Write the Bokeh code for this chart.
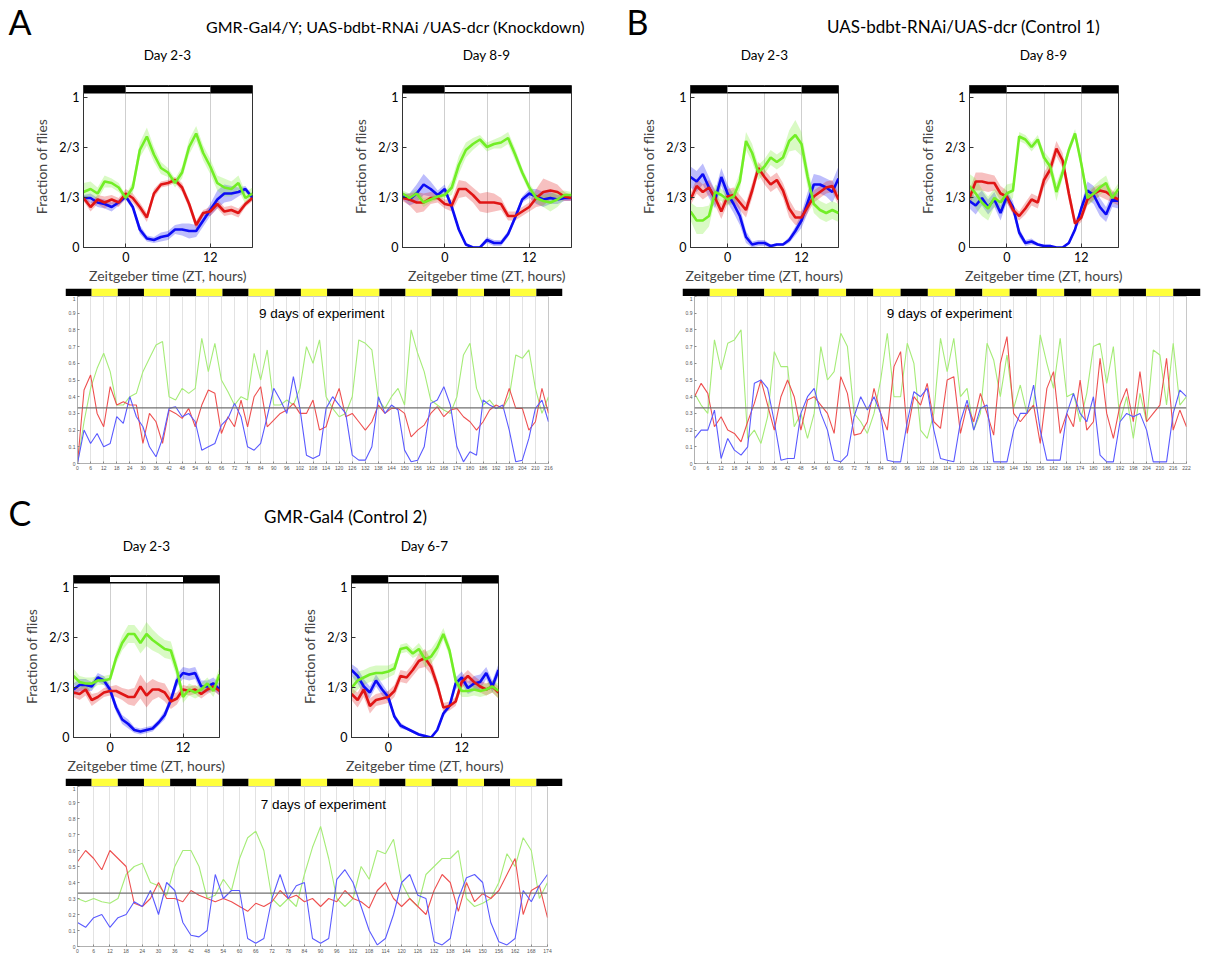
from bokeh.plotting import figure
from bokeh.layouts import row, column
from bokeh.models import Range1d, Label, FixedTicker, CustomJSTickFormatter, Span
from bokeh.embed import file_html
from bokeh.resources import INLINE

# ---------------- data ----------------
ZT = [-6, -5, -4, -3, -2, -1, 0, 1, 2, 3, 4, 5, 6, 7, 8, 9, 10, 11, 12, 13, 14, 15, 16, 17, 18]
LD_START = [-6, 0, 12]
LD_END = [0, 12, 18]
LD_LIGHT = [False, True, False]
Y_TICKS = [0, 1 / 3, 2 / 3, 1]
X_TICKS = [0, 12]
GRID_TICKS = [0, 6, 12]
CHANCE = 1 / 3

# Panel A, Day 2-3
A1_green = [0.37, 0.39, 0.36, 0.44, 0.43, 0.40, 0.33, 0.40, 0.65, 0.74, 0.62, 0.53, 0.50, 0.43, 0.50, 0.67, 0.76, 0.63, 0.54, 0.43, 0.40, 0.39, 0.43, 0.33, 0.36]
A1_green_sem = [0.06, 0.05, 0.04, 0.04, 0.03, 0.03, 0.02, 0.04, 0.05, 0.06, 0.05, 0.04, 0.03, 0.03, 0.04, 0.05, 0.05, 0.05, 0.05, 0.05, 0.06, 0.05, 0.05, 0.04, 0.04]
A1_red = [0.33, 0.27, 0.32, 0.30, 0.32, 0.30, 0.36, 0.33, 0.27, 0.20, 0.36, 0.42, 0.43, 0.45, 0.40, 0.29, 0.15, 0.23, 0.24, 0.29, 0.24, 0.25, 0.23, 0.29, 0.33]
A1_red_sem = [0.02, 0.03, 0.03, 0.04, 0.03, 0.03, 0.03, 0.03, 0.03, 0.03, 0.03, 0.02, 0.02, 0.02, 0.03, 0.03, 0.03, 0.02, 0.03, 0.03, 0.03, 0.03, 0.03, 0.02, 0.02]
A1_blue = [0.33, 0.33, 0.30, 0.29, 0.27, 0.30, 0.34, 0.27, 0.12, 0.06, 0.05, 0.07, 0.08, 0.12, 0.12, 0.11, 0.11, 0.18, 0.25, 0.32, 0.36, 0.36, 0.37, 0.39, 0.33]
A1_blue_sem = [0.02, 0.03, 0.03, 0.03, 0.03, 0.02, 0.02, 0.02, 0.03, 0.02, 0.02, 0.03, 0.03, 0.03, 0.04, 0.05, 0.04, 0.04, 0.04, 0.06, 0.06, 0.05, 0.03, 0.02, 0.02]

# Panel A, Day 8-9
A2_green = [0.36, 0.33, 0.36, 0.30, 0.32, 0.34, 0.35, 0.40, 0.55, 0.65, 0.69, 0.72, 0.67, 0.69, 0.70, 0.73, 0.62, 0.50, 0.40, 0.33, 0.31, 0.30, 0.32, 0.35, 0.35]
A2_green_sem = [0.02, 0.03, 0.03, 0.03, 0.02, 0.02, 0.02, 0.05, 0.06, 0.05, 0.04, 0.03, 0.03, 0.03, 0.04, 0.04, 0.04, 0.03, 0.03, 0.03, 0.04, 0.06, 0.05, 0.03, 0.02]
A2_red = [0.33, 0.32, 0.30, 0.30, 0.33, 0.33, 0.29, 0.28, 0.39, 0.39, 0.35, 0.30, 0.30, 0.30, 0.29, 0.21, 0.21, 0.24, 0.27, 0.33, 0.37, 0.38, 0.37, 0.34, 0.33]
A2_red_sem = [0.02, 0.04, 0.07, 0.06, 0.04, 0.03, 0.03, 0.04, 0.06, 0.05, 0.05, 0.06, 0.07, 0.06, 0.04, 0.03, 0.03, 0.03, 0.03, 0.06, 0.09, 0.06, 0.05, 0.03, 0.02]
A2_blue = [0.34, 0.32, 0.36, 0.42, 0.39, 0.35, 0.39, 0.27, 0.12, 0.02, 0.00, 0.00, 0.05, 0.03, 0.03, 0.09, 0.20, 0.32, 0.36, 0.34, 0.32, 0.33, 0.32, 0.33, 0.33]
A2_blue_sem = [0.02, 0.04, 0.06, 0.07, 0.05, 0.03, 0.03, 0.02, 0.02, 0.01, 0.01, 0.01, 0.02, 0.02, 0.02, 0.02, 0.02, 0.02, 0.03, 0.05, 0.05, 0.04, 0.03, 0.02, 0.02]

# Panel B, Day 2-3
B1_green = [0.24, 0.18, 0.18, 0.21, 0.37, 0.35, 0.32, 0.34, 0.44, 0.71, 0.63, 0.50, 0.54, 0.60, 0.57, 0.60, 0.71, 0.75, 0.69, 0.47, 0.29, 0.25, 0.23, 0.25, 0.23]
B1_green_sem = [0.06, 0.09, 0.09, 0.07, 0.05, 0.04, 0.04, 0.05, 0.06, 0.06, 0.06, 0.05, 0.05, 0.05, 0.05, 0.05, 0.07, 0.10, 0.08, 0.07, 0.06, 0.06, 0.06, 0.06, 0.06]
B1_red = [0.32, 0.41, 0.37, 0.40, 0.33, 0.24, 0.34, 0.35, 0.30, 0.25, 0.38, 0.53, 0.47, 0.42, 0.45, 0.38, 0.26, 0.20, 0.20, 0.27, 0.34, 0.37, 0.40, 0.41, 0.32]
B1_red_sem = [0.04, 0.05, 0.05, 0.05, 0.05, 0.05, 0.05, 0.05, 0.05, 0.05, 0.05, 0.04, 0.05, 0.05, 0.05, 0.05, 0.06, 0.05, 0.04, 0.04, 0.04, 0.04, 0.04, 0.04, 0.04]
B1_blue = [0.47, 0.44, 0.49, 0.40, 0.32, 0.47, 0.36, 0.29, 0.21, 0.07, 0.02, 0.03, 0.03, 0.01, 0.02, 0.02, 0.05, 0.11, 0.18, 0.30, 0.42, 0.42, 0.40, 0.37, 0.46]
B1_blue_sem = [0.07, 0.07, 0.07, 0.07, 0.06, 0.06, 0.06, 0.06, 0.06, 0.04, 0.02, 0.02, 0.02, 0.01, 0.01, 0.01, 0.02, 0.03, 0.05, 0.07, 0.07, 0.06, 0.06, 0.07, 0.08]

# Panel B, Day 8-9
B2_green = [0.41, 0.36, 0.30, 0.26, 0.33, 0.30, 0.36, 0.38, 0.74, 0.72, 0.67, 0.72, 0.60, 0.54, 0.37, 0.50, 0.65, 0.76, 0.56, 0.33, 0.36, 0.40, 0.43, 0.33, 0.39]
B2_green_sem = [0.08, 0.10, 0.09, 0.08, 0.06, 0.06, 0.06, 0.05, 0.03, 0.03, 0.03, 0.03, 0.04, 0.05, 0.06, 0.04, 0.03, 0.03, 0.04, 0.05, 0.05, 0.05, 0.05, 0.04, 0.04]
B2_red = [0.33, 0.44, 0.44, 0.43, 0.43, 0.36, 0.34, 0.25, 0.21, 0.26, 0.32, 0.30, 0.45, 0.52, 0.66, 0.58, 0.36, 0.16, 0.20, 0.32, 0.36, 0.38, 0.37, 0.34, 0.32]
B2_red_sem = [0.05, 0.06, 0.06, 0.06, 0.05, 0.05, 0.04, 0.03, 0.03, 0.04, 0.04, 0.04, 0.05, 0.05, 0.05, 0.05, 0.05, 0.03, 0.03, 0.04, 0.04, 0.04, 0.05, 0.04, 0.04]
B2_blue = [0.31, 0.28, 0.33, 0.27, 0.32, 0.23, 0.34, 0.27, 0.10, 0.03, 0.04, 0.02, 0.01, 0.01, 0.00, 0.00, 0.03, 0.12, 0.26, 0.38, 0.35, 0.27, 0.22, 0.32, 0.31]
B2_blue_sem = [0.05, 0.06, 0.05, 0.05, 0.05, 0.05, 0.04, 0.04, 0.03, 0.02, 0.02, 0.01, 0.01, 0.01, 0.00, 0.00, 0.01, 0.02, 0.03, 0.06, 0.06, 0.06, 0.05, 0.05, 0.05]

# Panel C, Day 2-3
C1_green = [0.41, 0.37, 0.36, 0.36, 0.38, 0.38, 0.39, 0.53, 0.63, 0.69, 0.69, 0.63, 0.69, 0.65, 0.62, 0.59, 0.58, 0.45, 0.27, 0.32, 0.30, 0.32, 0.36, 0.31, 0.42]
C1_green_sem = [0.05, 0.04, 0.04, 0.04, 0.03, 0.03, 0.03, 0.04, 0.05, 0.06, 0.06, 0.07, 0.08, 0.07, 0.06, 0.06, 0.06, 0.05, 0.04, 0.04, 0.04, 0.04, 0.04, 0.04, 0.05]
C1_red = [0.30, 0.29, 0.32, 0.25, 0.27, 0.30, 0.31, 0.31, 0.29, 0.27, 0.27, 0.34, 0.28, 0.32, 0.32, 0.30, 0.24, 0.26, 0.32, 0.31, 0.32, 0.29, 0.32, 0.34, 0.31]
C1_red_sem = [0.03, 0.04, 0.04, 0.04, 0.03, 0.03, 0.03, 0.04, 0.04, 0.05, 0.06, 0.08, 0.08, 0.07, 0.05, 0.06, 0.05, 0.04, 0.03, 0.03, 0.03, 0.03, 0.03, 0.03, 0.03]
C1_blue = [0.32, 0.35, 0.35, 0.34, 0.40, 0.38, 0.32, 0.20, 0.12, 0.09, 0.05, 0.04, 0.05, 0.06, 0.10, 0.15, 0.25, 0.38, 0.43, 0.42, 0.43, 0.34, 0.34, 0.36, 0.32]
C1_blue_sem = [0.04, 0.04, 0.04, 0.03, 0.03, 0.03, 0.03, 0.03, 0.03, 0.03, 0.02, 0.02, 0.02, 0.02, 0.02, 0.03, 0.03, 0.04, 0.04, 0.04, 0.04, 0.04, 0.04, 0.04, 0.04]

# Panel C, Day 6-7
C2_green = [0.33, 0.38, 0.40, 0.42, 0.43, 0.43, 0.44, 0.46, 0.59, 0.60, 0.56, 0.59, 0.52, 0.54, 0.60, 0.69, 0.58, 0.38, 0.31, 0.31, 0.32, 0.31, 0.32, 0.34, 0.31]
C2_green_sem = [0.06, 0.06, 0.05, 0.05, 0.05, 0.05, 0.04, 0.04, 0.03, 0.03, 0.03, 0.04, 0.05, 0.05, 0.05, 0.04, 0.04, 0.04, 0.04, 0.04, 0.04, 0.04, 0.04, 0.04, 0.05]
C2_red = [0.29, 0.25, 0.32, 0.21, 0.25, 0.26, 0.27, 0.31, 0.41, 0.40, 0.45, 0.51, 0.53, 0.47, 0.35, 0.20, 0.21, 0.24, 0.37, 0.41, 0.37, 0.34, 0.32, 0.34, 0.30]
C2_red_sem = [0.04, 0.05, 0.05, 0.05, 0.04, 0.04, 0.04, 0.04, 0.04, 0.04, 0.04, 0.05, 0.06, 0.05, 0.04, 0.03, 0.03, 0.03, 0.04, 0.04, 0.04, 0.04, 0.04, 0.04, 0.04]
C2_blue = [0.45, 0.41, 0.34, 0.30, 0.38, 0.32, 0.27, 0.14, 0.08, 0.06, 0.04, 0.02, 0.01, 0.00, 0.05, 0.16, 0.21, 0.36, 0.40, 0.33, 0.36, 0.37, 0.43, 0.34, 0.45]
C2_blue_sem = [0.04, 0.05, 0.05, 0.04, 0.04, 0.04, 0.03, 0.02, 0.02, 0.01, 0.01, 0.01, 0.01, 0.00, 0.01, 0.02, 0.02, 0.04, 0.04, 0.04, 0.05, 0.05, 0.04, 0.04, 0.04]

# Long recordings (sampled every 3 h)
LONG_A_HOURS = list(range(0, 217, 3))
LONG_A_green = [0.00, 0.25, 0.45, 0.57, 0.66, 0.55, 0.35, 0.35, 0.40, 0.42,
                0.55, 0.63, 0.71, 0.73, 0.40, 0.38, 0.45, 0.42, 0.45, 0.75,
                0.55, 0.72, 0.50, 0.43, 0.35, 0.40, 0.38, 0.66, 0.50, 0.68,
                0.35, 0.35, 0.38, 0.35, 0.45, 0.70, 0.60, 0.74, 0.40, 0.33,
                0.28, 0.30, 0.40, 0.74, 0.72, 0.68, 0.38, 0.33, 0.40, 0.45,
                0.35, 0.80, 0.66, 0.55, 0.38, 0.35, 0.32, 0.30, 0.40, 0.65,
                0.72, 0.45, 0.35, 0.38, 0.33, 0.33, 0.40, 0.65, 0.63, 0.68,
                0.45, 0.30, 0.40]
LONG_A_red = [0.00, 0.44, 0.53, 0.30, 0.22, 0.46, 0.35, 0.37, 0.35, 0.35,
              0.12, 0.30, 0.25, 0.12, 0.32, 0.30, 0.27, 0.33, 0.22, 0.35,
              0.44, 0.42, 0.18, 0.28, 0.22, 0.38, 0.22, 0.40, 0.46, 0.22,
              0.26, 0.30, 0.32, 0.36, 0.30, 0.30, 0.38, 0.20, 0.22, 0.35,
              0.45, 0.28, 0.30, 0.25, 0.20, 0.25, 0.35, 0.30, 0.33, 0.33,
              0.30, 0.16, 0.20, 0.23, 0.30, 0.34, 0.28, 0.32, 0.33, 0.28,
              0.25, 0.20, 0.25, 0.32, 0.35, 0.33, 0.45, 0.33, 0.33, 0.20,
              0.25, 0.45, 0.30]
LONG_A_blue = [0.00, 0.20, 0.12, 0.18, 0.10, 0.12, 0.28, 0.24, 0.40, 0.28,
               0.22, 0.10, 0.04, 0.15, 0.33, 0.34, 0.28, 0.30, 0.25, 0.08,
               0.10, 0.12, 0.23, 0.27, 0.36, 0.28, 0.10, 0.08, 0.12, 0.28,
               0.45, 0.38, 0.30, 0.52, 0.33, 0.05, 0.03, 0.05, 0.33, 0.40,
               0.35, 0.30, 0.05, 0.02, 0.02, 0.10, 0.40, 0.30, 0.35, 0.32,
               0.08, 0.01, 0.02, 0.10, 0.36, 0.38, 0.46, 0.35, 0.10, 0.01,
               0.07, 0.05, 0.38, 0.35, 0.33, 0.35, 0.20, 0.01, 0.02, 0.15,
               0.33, 0.38, 0.25]

LONG_B_HOURS = list(range(0, 223, 3))
LONG_B_green = [0.42, 0.35, 0.30, 0.74, 0.56, 0.72, 0.74, 0.80, 0.15, 0.20,
                0.12, 0.28, 0.67, 0.58, 0.58, 0.22, 0.30, 0.15, 0.30, 0.70,
                0.50, 0.55, 0.78, 0.70, 0.30, 0.25, 0.18, 0.30, 0.50, 0.78,
                0.40, 0.40, 0.72, 0.60, 0.20, 0.15, 0.30, 0.75, 0.55, 0.75,
                0.40, 0.45, 0.20, 0.30, 0.72, 0.62, 0.40, 0.65, 0.33, 0.47,
                0.30, 0.35, 0.77, 0.60, 0.45, 0.75, 0.40, 0.42, 0.25, 0.42,
                0.70, 0.72, 0.48, 0.70, 0.25, 0.40, 0.15, 0.42, 0.25, 0.68,
                0.65, 0.35, 0.72, 0.35, 0.40]
LONG_B_red = [0.40, 0.48, 0.42, 0.22, 0.28, 0.20, 0.18, 0.13, 0.25, 0.36,
              0.50, 0.35, 0.20, 0.40, 0.50, 0.40, 0.20, 0.38, 0.40, 0.35,
              0.30, 0.18, 0.52, 0.42, 0.17, 0.18, 0.25, 0.45, 0.30, 0.20,
              0.58, 0.67, 0.18, 0.40, 0.35, 0.48, 0.25, 0.21, 0.50, 0.52,
              0.18, 0.35, 0.25, 0.42, 0.30, 0.17, 0.60, 0.76, 0.30, 0.25,
              0.30, 0.35, 0.12, 0.45, 0.55, 0.18, 0.30, 0.22, 0.50, 0.20,
              0.25, 0.63, 0.30, 0.15, 0.35, 0.45, 0.25, 0.55, 0.25, 0.30,
              0.35, 0.63, 0.20, 0.32, 0.22]
LONG_B_blue = [0.15, 0.20, 0.20, 0.32, 0.03, 0.15, 0.08, 0.05, 0.10, 0.48,
               0.50, 0.45, 0.25, 0.02, 0.03, 0.03, 0.30, 0.40, 0.45, 0.30,
               0.20, 0.02, 0.01, 0.05, 0.28, 0.40, 0.32, 0.40, 0.30, 0.02,
               0.01, 0.01, 0.25, 0.43, 0.40, 0.45, 0.20, 0.03, 0.02, 0.01,
               0.25, 0.38, 0.20, 0.33, 0.35, 0.01, 0.01, 0.01, 0.20, 0.30,
               0.30, 0.47, 0.20, 0.02, 0.02, 0.02, 0.30, 0.42, 0.30, 0.25,
               0.40, 0.05, 0.01, 0.01, 0.25, 0.30, 0.28, 0.30, 0.20, 0.01,
               0.01, 0.01, 0.30, 0.44, 0.40]

LONG_C_HOURS = list(range(0, 175, 3))
LONG_C_green = [0.30, 0.28, 0.30, 0.28, 0.27, 0.30, 0.45, 0.50, 0.52, 0.40,
                0.38, 0.32, 0.50, 0.60, 0.60, 0.50, 0.30, 0.32, 0.42, 0.35,
                0.55, 0.68, 0.72, 0.60, 0.30, 0.25, 0.30, 0.25, 0.45, 0.62,
                0.75, 0.55, 0.30, 0.25, 0.30, 0.50, 0.42, 0.60, 0.58, 0.67,
                0.40, 0.30, 0.25, 0.45, 0.50, 0.55, 0.55, 0.60, 0.30, 0.25,
                0.27, 0.30, 0.40, 0.58, 0.50, 0.68, 0.60, 0.30, 0.40]
LONG_C_red = [0.53, 0.60, 0.55, 0.48, 0.60, 0.55, 0.50, 0.27, 0.25, 0.30,
              0.40, 0.30, 0.30, 0.28, 0.35, 0.32, 0.30, 0.28, 0.30, 0.28,
              0.25, 0.22, 0.27, 0.25, 0.28, 0.35, 0.30, 0.32, 0.28, 0.30,
              0.25, 0.30, 0.28, 0.35, 0.30, 0.28, 0.24, 0.35, 0.40, 0.30,
              0.25, 0.30, 0.25, 0.20, 0.35, 0.45, 0.40, 0.22, 0.40, 0.28,
              0.33, 0.30, 0.35, 0.45, 0.55, 0.20, 0.35, 0.38, 0.18]
LONG_C_blue = [0.15, 0.12, 0.18, 0.20, 0.12, 0.18, 0.20, 0.28, 0.25, 0.35,
               0.20, 0.40, 0.35, 0.15, 0.07, 0.06, 0.10, 0.45, 0.30, 0.35,
               0.35, 0.05, 0.02, 0.05, 0.30, 0.45, 0.30, 0.38, 0.40, 0.05,
               0.02, 0.05, 0.42, 0.48, 0.40, 0.25, 0.10, 0.01, 0.05, 0.20,
               0.40, 0.45, 0.32, 0.30, 0.03, 0.01, 0.05, 0.30, 0.43, 0.45,
               0.40, 0.15, 0.03, 0.01, 0.05, 0.35, 0.28, 0.38, 0.45]

# light/dark strip above each long recording (12 h segments, dark first)
STRIP_PHASES = ["D", "L", "D", "L", "D", "L", "D", "L", "D", "L",
                "D", "L", "D", "L", "D", "L", "D", "L", "D"]

# ---------------- styling ----------------
BLUE, RED, GREEN = "#0c0cf5", "#e01515", "#72ee26"
LBLUE, LRED, LGREEN = "#5a5aff", "#ee5050", "#a6ec78"
CAL = "Lato"
ARIAL = "Liberation Sans"


def base_fig(w, h, ml, mr, mt, mb, **kw):
    p = figure(width=w, height=h, toolbar_location=None, output_backend="svg", title=None,
               min_border_left=ml, min_border_right=mr, min_border_top=mt,
               min_border_bottom=mb, **kw)
    p.background_fill_color = "white"
    p.border_fill_color = "white"
    return p


def header(w, h, labels):
    p = base_fig(w, h, 0, 0, 0, 0, x_range=Range1d(0, w), y_range=Range1d(h, 0),
                 x_axis_type=None, y_axis_type=None)
    p.grid.visible = False
    p.outline_line_color = None
    for (x, y, txt, size, align) in labels:
        p.add_layout(Label(x=x, y=y, text=txt, text_font=CAL, text_font_size=size,
                           text_align=align, text_baseline="middle", text_color="black"))
    return p


def small(w, h, ml, mr, mt, mb, series):
    p = base_fig(w, h, ml, mr, mt, mb, x_range=Range1d(-6, 18), y_range=Range1d(0, 1.08))
    # light regime bar
    p.quad(left=LD_START, right=LD_END, bottom=1.026, top=1.08, fill_color="black", line_color=None)
    ls = [s for s, on in zip(LD_START, LD_LIGHT) if on]
    le = [e for e, on in zip(LD_END, LD_LIGHT) if on]
    p.quad(left=ls, right=le, bottom=1.037, top=1.07, fill_color="white", line_color=None)
    for vals, sem, col in series:
        lo = [max(0.0, v - s) for v, s in zip(vals, sem)]
        hi = [v + s for v, s in zip(vals, sem)]
        p.varea(x=ZT, y1=lo, y2=hi, fill_color=col, fill_alpha=0.27)
    for vals, sem, col in series:
        p.line(ZT, vals, line_color=col, line_width=2.6)
    p.xaxis.ticker = FixedTicker(ticks=X_TICKS)
    p.yaxis.ticker = FixedTicker(ticks=Y_TICKS)
    p.yaxis.formatter = CustomJSTickFormatter(code="""
        if (Math.abs(tick) < 1e-6) return "0";
        if (Math.abs(tick - 1/3) < 1e-6) return "1/3";
        if (Math.abs(tick - 2/3) < 1e-6) return "2/3";
        if (Math.abs(tick - 1) < 1e-6) return "1";
        return "";""")
    p.xaxis.axis_label = "Zeitgeber time (ZT, hours)"
    p.yaxis.axis_label = "Fraction of flies"
    for ax in (p.xaxis[0], p.yaxis[0]):
        ax.axis_label_text_font = CAL
        ax.axis_label_text_font_style = "normal"
        ax.axis_label_text_font_size = "14px"
        ax.major_label_text_font = CAL
        ax.major_label_text_font_size = "12.5px"
        ax.major_label_text_color = "black"
        ax.major_tick_in = 4
        ax.major_tick_out = 0
        ax.minor_tick_line_color = None
        ax.axis_line_color = "#333333"
        ax.major_tick_line_color = "#333333"
        ax.major_label_standoff = 4
    p.xaxis.axis_label_standoff = 2
    p.yaxis.axis_label_standoff = 6
    p.outline_line_color = "#333333"
    p.xgrid.ticker = FixedTicker(ticks=GRID_TICKS)
    p.xgrid.grid_line_color = "#cfcfcf"
    p.ygrid.grid_line_color = None
    return p


def strip(w, h, ml, mr, mt, mb):
    n = len(STRIP_PHASES)
    p = base_fig(w, h, ml, mr, mt, mb, x_range=Range1d(0, n), y_range=Range1d(0, 1),
                 x_axis_type=None, y_axis_type=None)
    p.grid.visible = False
    p.outline_line_color = None
    idx = list(range(n))
    cols = ["black" if ph == "D" else "#ffff3c" for ph in STRIP_PHASES]
    p.quad(left=idx, right=[i + 1 for i in idx], bottom=0, top=1, fill_color=cols, line_color=None)
    return p


def long_plot(w, h, ml, mr, mt, mb, hours, xmax, g, r, b, title, tx, ty):
    p = base_fig(w, h, ml, mr, mt, mb, x_range=Range1d(0, xmax), y_range=Range1d(0, 1))
    ticks = list(range(0, xmax + 1, 6))
    p.xaxis.ticker = FixedTicker(ticks=ticks)
    p.xgrid.ticker = FixedTicker(ticks=ticks)
    p.xgrid.grid_line_color = "#e2e2e2"
    p.ygrid.grid_line_color = None
    p.yaxis.ticker = FixedTicker(ticks=[0, 0.1, 0.2, 0.3, 0.4, 0.5, 0.6, 0.7, 0.8, 0.9, 1.0])
    p.yaxis.formatter = CustomJSTickFormatter(code="return tick.toFixed(1).replace(/\\.0$/, '');")
    for ax in (p.xaxis[0], p.yaxis[0]):
        ax.major_label_text_font_size = "5px"
        ax.major_label_text_color = "#555555"
        ax.major_label_text_font = ARIAL
        ax.major_tick_in = 2
        ax.major_tick_out = 0
        ax.minor_tick_line_color = None
        ax.axis_line_color = "#b0b0b0"
        ax.major_tick_line_color = "#888888"
        ax.major_label_standoff = 2
    p.outline_line_color = "#c8c8c8"
    p.add_layout(Span(location=CHANCE, dimension="width", line_color="#707070", line_width=1.2))
    p.line(hours, g, line_color=LGREEN, line_width=1.1)
    p.line(hours, r, line_color=LRED, line_width=1.1)
    p.line(hours, b, line_color=LBLUE, line_width=1.1)
    p.add_layout(Label(x=tx, y=ty, text=title, text_font=ARIAL, text_font_size="13.5px",
                       text_align="center", text_baseline="middle", text_color="black"))
    return p


# ---------------- panel A (x 0..620) ----------------
hA = header(620, 63, [
    (8, 21, "A", "34px", "left"),
    (395, 26, "GMR-Gal4/Y; UAS-bdbt-RNAi /UAS-dcr (Knockdown)", "16px", "center"),
    (167, 54, "Day 2-3", "13.5px", "center"),
    (486, 54, "Day 8-9", "13.5px", "center"),
])
A1 = small(330, 223, 83, 78, 22, 38, [(A1_blue, A1_blue_sem, BLUE), (A1_red, A1_red_sem, RED), (A1_green, A1_green_sem, GREEN)])
A2 = small(290, 223, 72, 49, 22, 38, [(A2_blue, A2_blue_sem, BLUE), (A2_red, A2_red_sem, RED), (A2_green, A2_green_sem, GREEN)])
sA = strip(620, 10, 65, 58, 0, 1)
lA = long_plot(620, 187, 77, 72, 0, 20, LONG_A_HOURS, 216, LONG_A_green, LONG_A_red, LONG_A_blue,
               "9 days of experiment", 112, 0.9)
blockA = column(row(hA), row(A1, A2), row(sA), row(lA))

# ---------------- panel B (x 620..1216) ----------------
hB = header(596, 63, [
    (6, 21, "B", "34px", "left"),
    (343, 26, "UAS-bdbt-RNAi/UAS-dcr (Control 1)", "17px", "center"),
    (144, 54, "Day 2-3", "13.5px", "center"),
    (423, 54, "Day 8-9", "13.5px", "center"),
])
B1 = small(280, 223, 70, 62, 22, 38, [(B1_blue, B1_blue_sem, BLUE), (B1_red, B1_red_sem, RED), (B1_green, B1_green_sem, GREEN)])
B2 = small(316, 223, 69, 98, 22, 38, [(B2_blue, B2_blue_sem, BLUE), (B2_red, B2_red_sem, RED), (B2_green, B2_green_sem, GREEN)])
sB = strip(596, 10, 62, 16, 0, 1)
lB = long_plot(596, 187, 74, 30, 0, 20, LONG_B_HOURS, 222, LONG_B_green, LONG_B_red, LONG_B_blue,
               "9 days of experiment", 115, 0.9)
blockB = column(row(hB), row(B1, B2), row(sB), row(lB))

# ---------------- panel C (y 483..955) ----------------
hC = header(620, 83, [
    (8, 29, "C", "34px", "left"),
    (345, 33, "GMR-Gal4 (Control 2)", "17px", "center"),
    (146, 62, "Day 2-3", "13.5px", "center"),
    (424, 62, "Day 6-7", "13.5px", "center"),
])
C1 = small(290, 210, 73, 71, 9, 38, [(C1_blue, C1_blue_sem, BLUE), (C1_red, C1_red_sem, RED), (C1_green, C1_green_sem, GREEN)])
C2 = small(330, 210, 61, 122, 9, 38, [(C2_blue, C2_blue_sem, BLUE), (C2_red, C2_red_sem, RED), (C2_green, C2_green_sem, GREEN)])
sC = strip(620, 10, 65, 58, 0, 1)
lC = long_plot(620, 169, 77, 73, 0, 5, LONG_C_HOURS, 174, LONG_C_green, LONG_C_red, LONG_C_blue,
               "7 days of experiment", 91, 0.89)
blockC = column(row(hC), row(C1, C2), row(sC), row(lC))

layout = column(row(blockA, blockB), blockC)

with open("out.html", "w") as f:
    f.write(file_html(layout, INLINE))
